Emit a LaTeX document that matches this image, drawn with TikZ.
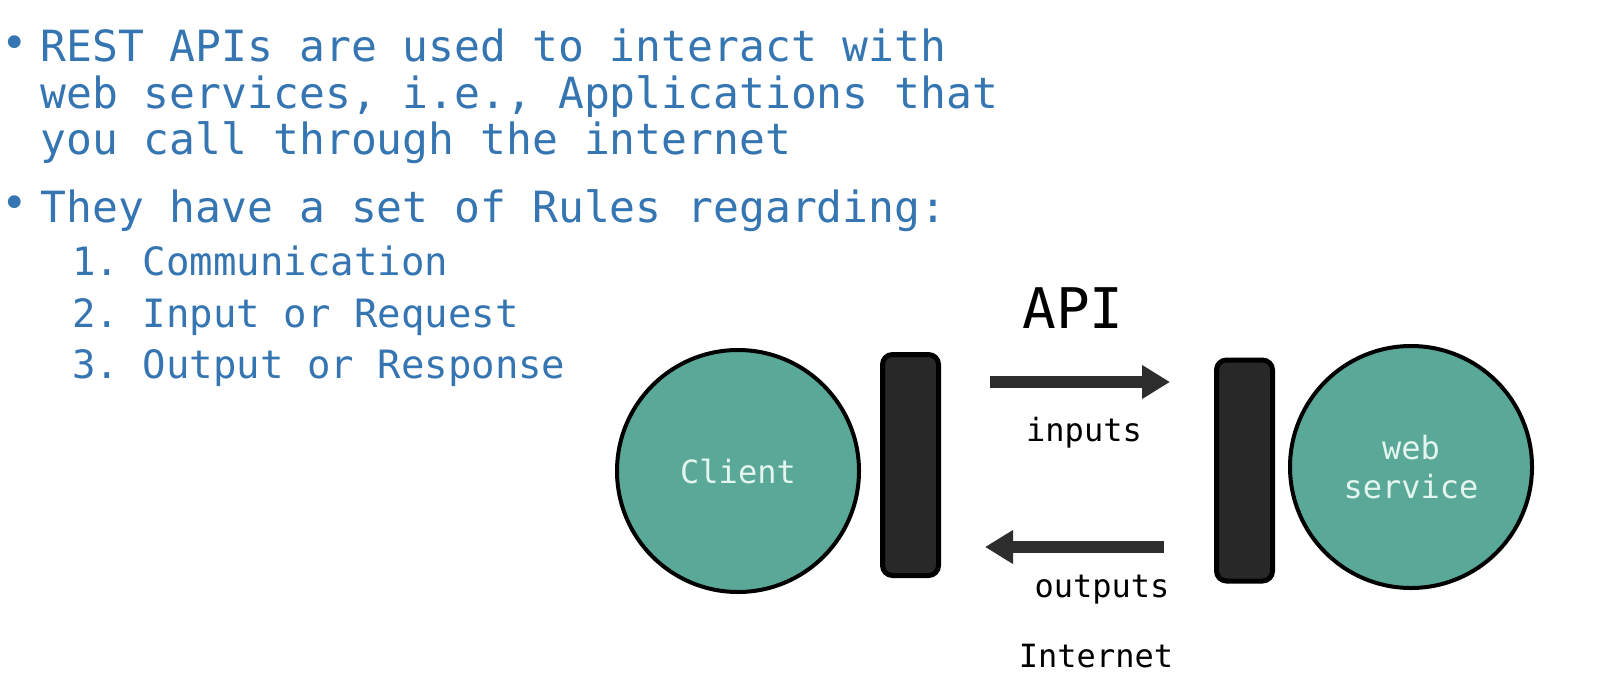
\documentclass[tikz,border=0pt]{standalone}
\usepackage{fontspec}
\newfontfamily\slidemono{DejaVu Sans Mono}
\usetikzlibrary{arrows.meta,positioning}
\frenchspacing

\definecolor{slideblue}{RGB}{52,117,178}
\definecolor{apiteal}{RGB}{89,168,152}
\definecolor{barfill}{RGB}{40,40,40}
\definecolor{circletext}{RGB}{228,244,238}
\definecolor{arrowgray}{RGB}{45,45,45}

\begin{document}
\begin{tikzpicture}[x=0.5pt, y=-0.5pt,
    bullettext/.style={anchor=base west, inner sep=0pt, text=slideblue, font=\slidemono\frenchspacing\fontsize{21.5}{25}\selectfont},
    subtext/.style={anchor=base west, inner sep=0pt, text=slideblue, font=\slidemono\frenchspacing\fontsize{19.5}{23}\selectfont},
    bulletdot/.style={inner sep=0pt, text=slideblue, font=\slidemono\fontsize{22}{24}\selectfont},
    endpoint/.style={circle, draw=black, line width=2pt, fill=apiteal, minimum size=121pt, text=circletext, align=center, font=\slidemono\fontsize{16}{19.5}\selectfont},
    apibar/.style={rectangle, rounded corners=5pt, draw=black, line width=2.5pt, fill=barfill, minimum width=28pt, minimum height=110.5pt},
    flow/.style={line width=6pt, draw=arrowgray, -{Triangle[length=14pt,width=16pt]}},
    flowlabel/.style={anchor=base, inner sep=0pt, font=\slidemono\fontsize{16}{19}\selectfont}]
    \useasboundingbox (0,0) rectangle (1604,690);

    % bullet points
    \node [bulletdot] (dot1) at (15,47) {•};
    \node [bullettext] (line1) at (40,62) {REST APIs are used to interact with};
    \node [bullettext] (line2) at (40,109) {web services, i.e., Applications that};
    \node [bullettext] (line3) at (40,155) {you call through the internet};
    \node [bulletdot] (dot2) at (15,207) {•};
    \node [bullettext] (line4) at (40,222) {They have a set of Rules regarding:};
    \node [subtext] (rule1) at (72,275) {1. Communication};
    \node [subtext] (rule2) at (72,327) {2. Input or Request};
    \node [subtext] (rule3) at (72,378) {3. Output or Response};

    % client, api bars and web service
    \node [endpoint] (client) at (738,471) {Client};
    \node [apibar] (lbar) at (910.5,465) {};
    \node [apibar] (rbar) at (1244.5,470.5) {};
    \node [endpoint] (service) at (1411,467) {web\\service};

    \node [flowlabel, font=\slidemono\fontsize{28}{32}\selectfont] (api) at (1073,328) {API};

    \coordinate (in start) at (990,382);
    \coordinate (in end) at (1170,382);
    \coordinate (out start) at (1164,547);
    \coordinate (out end) at (985,547);
    \draw [flow] (in start) -- (in end);
    \draw [flow] (out start) -- (out end);

    \node [flowlabel] (inputs) at (1084,441) {inputs};
    \node [flowlabel] (outputs) at (1102,597) {outputs};
    \node [flowlabel] (internet) at (1096,667) {Internet};
\end{tikzpicture}
\end{document}
